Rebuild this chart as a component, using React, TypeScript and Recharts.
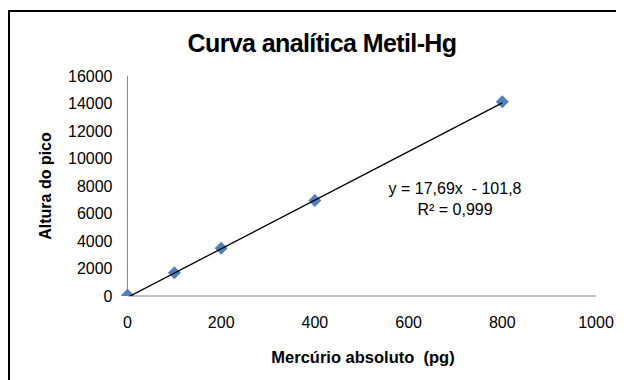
import React from "react";
import { ScatterChart, Scatter, XAxis, YAxis } from "recharts";

const massPg = [0, 100, 200, 400, 800];
const peakHeight = [50, 1700, 3470, 6950, 14130];
const xTicks = [0, 200, 400, 600, 800, 1000];
const yTicks = [0, 2000, 4000, 6000, 8000, 10000, 12000, 14000, 16000];
const slope = 17.69;
const intercept = -101.8;

const points = massPg.map((x, i) => ({ x, y: peakHeight[i] }));
const trend = [0, 800].map((x) => ({ x, y: slope * x + intercept }));

const font = "'Liberation Sans', Arial, sans-serif";

const Diamond = (props: any) => {
  const { cx, cy } = props;
  const r = 6.5;
  return (
    <polygon
      points={`${cx},${cy - r} ${cx + r},${cy} ${cx},${cy + r} ${cx - r},${cy}`}
      fill="#4F81BD"
    />
  );
};

const App = () => {
  return (
    <div style={{ position: "relative", width: 608, height: 372, fontFamily: font, color: "#000" }}>
      <div
        style={{
          position: "absolute",
          left: 0,
          top: 2,
          width: 640,
          height: 400,
          borderTop: "2px solid #000",
          borderLeft: "2px solid #000",
        }}
      />
      <div
        style={{
          position: "absolute",
          left: 0,
          width: 628,
          top: 20,
          textAlign: "center",
          fontSize: 25,
          lineHeight: "30px",
          letterSpacing: -0.6,
          fontWeight: "bold",
        }}
      >
        Curva analítica Metil-Hg
      </div>
      <ScatterChart
        width={608}
        height={372}
        margin={{ top: 68, right: 20, left: 59.5, bottom: 54 }}
        style={{ position: "absolute", left: 0, top: 0 }}
      >
        <XAxis
          type="number"
          dataKey="x"
          domain={[0, 1000]}
          ticks={xTicks}
          tickLine={false}
          tickSize={0}
          tickMargin={21}
          height={30}
          axisLine={{ stroke: "#868686" }}
          tick={{ fill: "#000", fontSize: 16, fontFamily: font }}
        />
        <YAxis
          type="number"
          dataKey="y"
          domain={[0, 16000]}
          allowDataOverflow
          ticks={yTicks}
          tickLine={false}
          tickSize={0}
          tickMargin={15}
          width={60}
          axisLine={{ stroke: "#868686" }}
          tick={{ fill: "#000", fontSize: 16, fontFamily: font }}
        />
        <Scatter data={points} shape={<Diamond />} isAnimationActive={false} />
        <Scatter
          data={trend}
          line={{ stroke: "#000", strokeWidth: 1.3 }}
          shape={() => <g />}
          isAnimationActive={false}
        />
      </ScatterChart>
      <div
        style={{
          position: "absolute",
          left: 38 - 70,
          top: 178 - 9,
          width: 140,
          transform: "rotate(-90deg)",
          textAlign: "center",
          fontSize: 16,
          fontWeight: "bold",
          lineHeight: "18px",
        }}
      >
        Altura do pico
      </div>
      <div
        style={{
          position: "absolute",
          left: 355 - 150,
          width: 300,
          top: 340,
          textAlign: "center",
          fontSize: 16.5,
          lineHeight: "18px",
          fontWeight: "bold",
          whiteSpace: "pre",
        }}
      >
        {"Mercúrio absoluto  (pg)"}
      </div>
      <div
        style={{
          position: "absolute",
          left: 447 - 100,
          width: 200,
          top: 170,
          textAlign: "center",
          fontSize: 16,
          lineHeight: "21px",
          whiteSpace: "pre",
        }}
      >
        {"y = 17,69x  - 101,8"}
        <br />
        {"R² = 0,999"}
      </div>
    </div>
  );
};

export default App;
